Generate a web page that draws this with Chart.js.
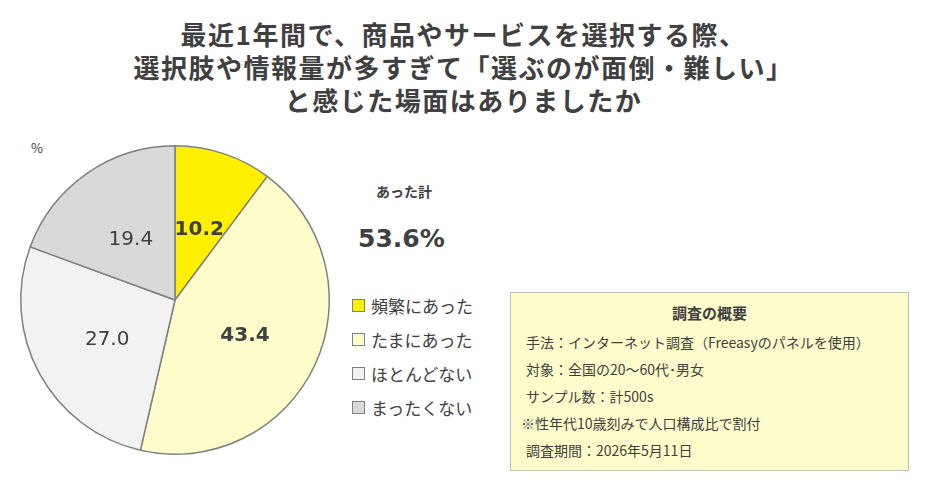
<!DOCTYPE html>
<html lang="ja">
<head>
<meta charset="utf-8">
<script src="https://cdn.jsdelivr.net/npm/chart.js@4/dist/chart.umd.min.js"></script>
<style>
  html, body { margin: 0; padding: 0; background: #fff; }
  body { width: 927px; height: 490px; position: relative; overflow: hidden;
         font-family: "Noto Sans CJK JP", "Noto Sans", sans-serif; color: #404040; }
  #title { position: absolute; left: 0; top: 17px; width: 927px; text-align: center;
           font-size: 26px; font-weight: bold; line-height: 33px; letter-spacing: 1.5px; }
  #pct { position: absolute; left: 31px; top: 138px; font-size: 13px; }
  #pieWrap { position: absolute; left: 0; top: 145px; width: 350px; height: 310px; }
  #totalLbl { position: absolute; left: 376px; top: 181px; font-size: 14px; font-weight: bold; }
  #totalVal { position: absolute; left: 358px; top: 224px; font-size: 25px; font-weight: bold;
              font-family: "DejaVu Sans", sans-serif; }
  #legend { position: absolute; left: 352px; top: 288px; }
  .item { height: 34px; display: flex; align-items: center; font-size: 17px; }
  .sw { width: 11px; height: 11px; border: 1px solid #808080; margin-right: 6px; }
  #box { position: absolute; left: 510px; top: 292px; width: 399px; height: 179px;
         background: #FFFCCC; border: 1px solid #BFBFBF; box-sizing: border-box; font-size: 14px; }
  #box .hd { text-align: center; font-weight: bold; font-size: 15px; margin-top: 9px; height: 27px; }
  #box .ln { height: 27px; line-height: 27px; padding-left: 15px; }
  #box .ln.note { padding-left: 10px; }
</style>
</head>
<body>
<div id="title">最近1年間で、商品やサービスを選択する際、<br>選択肢や情報量が多すぎて「選ぶのが面倒・難しい」<br>と感じた場面はありましたか</div>
<div id="pct">%</div>
<div id="pieWrap"><canvas id="pie"></canvas></div>
<div id="totalLbl">あった計</div>
<div id="totalVal">53.6%</div>
<div id="legend"></div>
<div id="box">
  <div class="hd">調査の概要</div>
  <div class="ln">手法：インターネット調査（Freeasyのパネルを使用）</div>
  <div class="ln">対象：全国の20～60代･男女</div>
  <div class="ln">サンプル数：計500s</div>
  <div class="ln note">※性年代10歳刻みで人口構成比で割付</div>
  <div class="ln">調査期間：2026年5月11日</div>
</div>
<script>
// 回答カテゴリと値（%）
const labels = ['頻繁にあった', 'たまにあった', 'ほとんどない', 'まったくない'];
const values = [10.2, 43.4, 27.0, 19.4];
const colors = ['#FFF000', '#FFFCCC', '#F2F2F2', '#D9D9D9'];
const boldLabel = [true, true, false, false];

// 凡例
const legendEl = document.getElementById('legend');
labels.forEach((l, i) => {
    const div = document.createElement('div');
    div.className = 'item';
    div.innerHTML = `<span class="sw" style="background:${colors[i]}"></span>${l}`;
    legendEl.appendChild(div);
});

// 値ラベル
const valueLabels = {
    id: 'valueLabels',
    afterDatasetsDraw(chart) {
        const ctx = chart.ctx;
        const meta = chart.getDatasetMeta(0);
        ctx.save();
        ctx.textAlign = 'center';
        ctx.textBaseline = 'middle';
        ctx.fillStyle = '#404040';
        meta.data.forEach((arc, i) => {
            const p = arc.tooltipPosition();
            ctx.font = (boldLabel[i] ? 'bold ' : '') + '20px "DejaVu Sans", sans-serif';
            ctx.fillText(values[i].toFixed(1), p.x, p.y + 3);
        });
        ctx.restore();
    }
};

new Chart(document.getElementById('pie'), {
    type: 'pie',
    data: {
        labels: labels,
        datasets: [{
            data: values,
            backgroundColor: colors,
            borderColor: '#808080',
            borderWidth: 1.5,
            hoverOffset: 0
        }]
    },
    options: {
        responsive: true,
        maintainAspectRatio: false,
        animation: false,
        layout: { padding: 0 },
        plugins: { legend: { display: false }, tooltip: { enabled: false } }
    },
    plugins: [valueLabels]
});
</script>
</body>
</html>
